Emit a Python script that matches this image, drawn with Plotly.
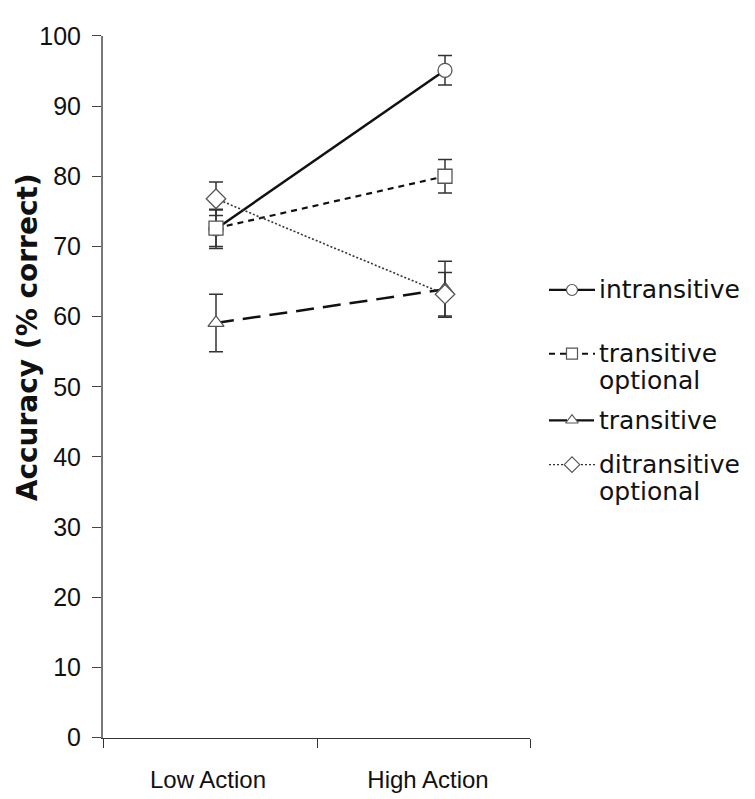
import plotly.graph_objects as go

# ---------------- data ----------------
categories = ["Low Action", "High Action"]
series_names = ["intransitive", "transitive<br>optional", "transitive", "ditransitive<br>optional"]
intransitive = [72.5, 95.1]
intransitive_err = [2.8, 2.1]
transitive_optional = [72.6, 80.0]
transitive_optional_err = [2.6, 2.4]
transitive = [59.1, 63.9]
transitive_err = [4.1, 4.0]
ditransitive_optional = [76.8, 63.2]
ditransitive_optional_err = [2.4, 3.1]
y_ticks = [0, 10, 20, 30, 40, 50, 60, 70, 80, 90, 100]
y_title = "Accuracy (% correct)"

# ---------------- geometry (pixels) ----------------
W, H = 755, 799
PLOT_L, PLOT_R = 103, 530
PLOT_T, PLOT_B = 22.7, 750
PT0, PT1 = 216, 445          # pixel x of first / second category points
LABEL_PX = [208, 428]
BOUND_PX = [103, 317, 530]

scale = (PT1 - PT0)
def px2x(p):
    return (p - PT0) / scale

FONT = "Arial, Liberation Sans, sans-serif"
WIDE = "DejaVu Sans, Verdana, sans-serif"
x_idx = list(range(len(categories)))

styles = [
    dict(dash="solid", width=2.5, color="#111111", symbol="circle", lsize=11),
    dict(dash="6px,5px", width=2.2, color="#111111", symbol="square", lsize=11),
    dict(dash="18px,9px", width=2.5, color="#111111", symbol="triangle-up", lsize=11),
    dict(dash="2px,2px", width=1.6, color="#333333", symbol="diamond", lsize=12),
]
values = [intransitive, transitive_optional, transitive, ditransitive_optional]
errors = [intransitive_err, transitive_optional_err, transitive_err, ditransitive_optional_err]

fig = go.Figure()
for name, vals, errs, st in zip(series_names, values, errors, styles):
    fig.add_trace(go.Scatter(
        x=x_idx, y=vals, mode="lines+markers", name=name.replace("<br>", " "),
        line=dict(color=st["color"], width=st["width"], dash=st["dash"]),
        marker=dict(symbol=st["symbol"], size=14 if st["symbol"] != "diamond" else 15,
                    color="white", line=dict(color="#555555", width=1.3)),
        error_y=dict(type="data", array=errs, visible=True, color="#333333",
                     thickness=1.5, width=7),
        showlegend=False,
    ))

# ---------------- manual legend ----------------
LEG_Y = [286, 352, 421, 467]
LINE_GAP = 28
for name, st, yc in zip(series_names, styles, LEG_Y):
    fig.add_trace(go.Scatter(
        x=[549, 595], y=[yc, yc], mode="lines", xaxis="x2", yaxis="y2",
        line=dict(color=st["color"], width=st["width"] * 0.9, dash=st["dash"]),
        showlegend=False, hoverinfo="skip"))
    fig.add_trace(go.Scatter(
        x=[572], y=[yc], mode="markers", xaxis="x2", yaxis="y2",
        marker=dict(symbol=st["symbol"], size=st["lsize"], color="white",
                    line=dict(color="#555555", width=1.2)),
        showlegend=False, hoverinfo="skip"))
    for i, line in enumerate(name.split("<br>")):
        fig.add_annotation(x=598, y=yc + i * LINE_GAP, xref="x2", yref="y2",
                           text=line, showarrow=False, xanchor="left", yanchor="middle",
                           borderpad=0,
                           font=dict(family=WIDE, size=25, color="#111111"))

fig.add_annotation(x=27 / W, y=1 - 335 / H, xref="paper", yref="paper",
                   xanchor="center", yanchor="middle",
                   text="<b>" + y_title + "</b>", textangle=-90, showarrow=False,
                   font=dict(family=WIDE, size=28, color="#111111"))

fig.update_layout(
    width=W, height=H,
    margin=dict(l=0, r=0, t=0, b=0),
    paper_bgcolor="white", plot_bgcolor="white",
    showlegend=False,
    xaxis=dict(
        domain=[PLOT_L / W, PLOT_R / W],
        range=[px2x(PLOT_L), px2x(PLOT_R)],
        tickmode="array", tickvals=[px2x(p) for p in LABEL_PX], ticktext=categories,
        ticks="", showgrid=False, zeroline=False, ticklabelstandoff=20,
        showline=True, linecolor="#333333", linewidth=1.3,
        tickfont=dict(family=FONT, size=24, color="#111111"),
        minor=dict(tickmode="array", tickvals=[px2x(p) for p in BOUND_PX],
                   ticks="outside", ticklen=9, tickcolor="#333333", tickwidth=1.3,
                   showgrid=False),
        fixedrange=True,
    ),
    yaxis=dict(
        domain=[1 - PLOT_B / H, 1 - PLOT_T / H],
        range=[0, 100],
        tickmode="array", tickvals=y_ticks,
        ticks="outside", ticklen=9, tickcolor="#444444", tickwidth=1.3,
        showgrid=False, zeroline=False, ticklabelstandoff=6,
        showline=True, linecolor="#777777", linewidth=2,
        tickfont=dict(family=FONT, size=25, color="#111111"),
        fixedrange=True,
    ),
    xaxis2=dict(domain=[540 / W, 1], range=[540, W], visible=False,
                anchor="y2", fixedrange=True),
    yaxis2=dict(domain=[0, 1], range=[H, 0], visible=False,
                anchor="x2", fixedrange=True),
)

fig.write_html("out.html")
